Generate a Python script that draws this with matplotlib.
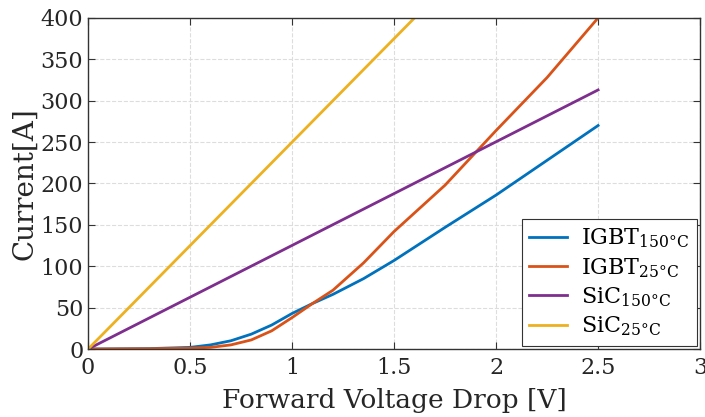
import numpy as np
import matplotlib.pyplot as plt

# forward voltage drop [V] and current [A]
v_igbt = [0, 0.3, 0.5, 0.6, 0.7, 0.8, 0.9, 1.0, 1.1, 1.2, 1.35, 1.5, 1.75, 2.0, 2.25, 2.5]
i_igbt150 = [0, 0.5, 2, 5, 10, 18, 29, 43, 55, 66, 85, 107, 147, 186, 228, 270]
i_igbt25 = [0, 0.3, 1, 2, 5, 11, 22, 38, 55, 71, 104, 142, 198, 264, 328, 400]

v_sic150 = [0, 2.5]
i_sic150 = [0, 313]
v_sic25 = [0, 1.6]
i_sic25 = [0, 400]

labels = [r'IGBT$_{\mathregular{150°C}}$', r'IGBT$_{\mathregular{25°C}}$',
          r'SiC$_{\mathregular{150°C}}$', r'SiC$_{\mathregular{25°C}}$']
colors = ['#0072BD', '#D95319', '#7E2F8E', '#EDB120']

plt.rcParams['font.family'] = 'DejaVu Serif'
plt.rcParams['mathtext.fontset'] = 'dejavuserif'

fig = plt.figure(figsize=(7.05, 4.17), dpi=100)
ax = fig.add_axes([0.125, 0.163, 0.868, 0.794])

ax.plot(v_igbt, i_igbt150, color=colors[0], lw=2, label=labels[0])
ax.plot(v_igbt, i_igbt25, color=colors[1], lw=2, label=labels[1])
ax.plot(v_sic150, i_sic150, color=colors[2], lw=2, label=labels[2])
ax.plot(v_sic25, i_sic25, color=colors[3], lw=2, label=labels[3])

ax.set_xlim(0, 3)
ax.set_ylim(0, 400)
ax.set_xticks([0, 0.5, 1, 1.5, 2, 2.5, 3])
ax.set_xticklabels(['0', '0.5', '1', '1.5', '2', '2.5', '3'])
ax.set_yticks(np.arange(0, 401, 50))
ax.tick_params(direction='in', top=True, right=True, labelsize=16,
               length=5, width=0.8, color='#333333', labelcolor='#262626')
ax.tick_params(axis='x', pad=6)
ax.grid(True, ls='--', color='#dddddd', lw=0.8)
for s in ax.spines.values():
    s.set_color('#333333')
    s.set_linewidth(1)

ax.set_xlabel('Forward Voltage Drop [V]', fontsize=19, color='#262626', labelpad=6)
ax.set_ylabel('Current[A]', fontsize=20, color='#262626', labelpad=2)

leg = ax.legend(loc='lower right', fontsize=16, fancybox=False, framealpha=1,
                edgecolor='#333333', borderaxespad=0.15, handlelength=1.7,
                labelspacing=0.25, borderpad=0.35, handletextpad=0.6)
leg.get_frame().set_linewidth(0.8)

fig.savefig('out.png', dpi=100)
